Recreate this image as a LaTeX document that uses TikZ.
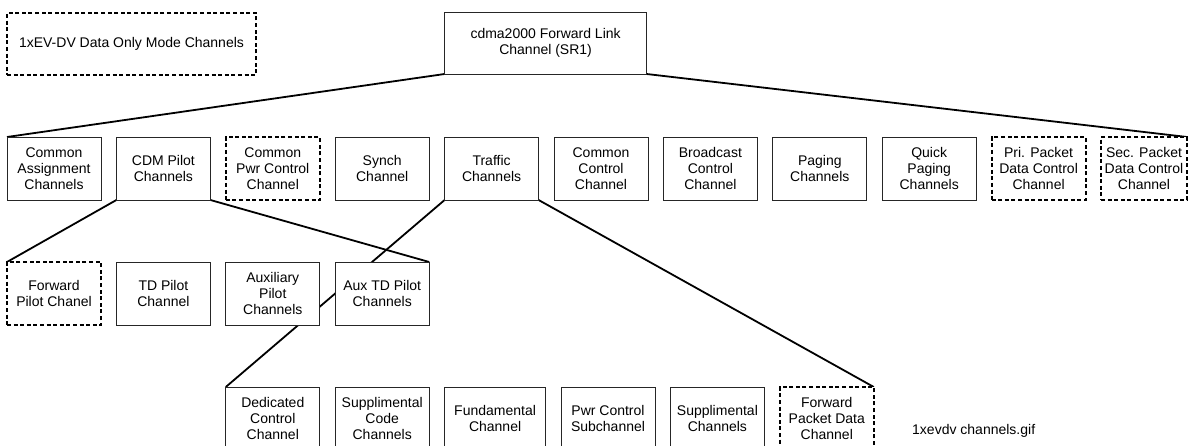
\documentclass[tikz,border=0pt]{standalone}
\usepackage{fontspec}
\setmainfont{Liberation Sans}
\usepackage{tikz}
\usetikzlibrary{positioning,backgrounds}

\begin{document}
\begin{tikzpicture}[
  x=1pt, y=1pt,
  box/.style={draw=black!85, line width=0.8pt, fill=white, align=center, minimum width=94pt, minimum height=63pt, inner sep=1pt, outer sep=0pt, font=\fontsize{14}{16}\selectfont},
  dbox/.style={box, draw=black, line width=1.8pt, dash pattern=on 4pt off 2.6pt},
  link/.style={line width=1.8pt}
]
\useasboundingbox (0,0) rectangle (1188,445);
% first row
\node[box, anchor=north west] (ca) at (7,308) {Common\\Assignment\\Channels};
\node[box, right=15.4pt of ca] (cdm) {CDM Pilot\\Channels};
\node[dbox, right=15.4pt of cdm] (cpc) {Common\\Pwr Control\\Channel};
\node[box, right=15.4pt of cpc] (sync) {Synch\\Channel};
\node[box, right=15.4pt of sync] (tch) {Traffic\\Channels};
\node[box, right=15.4pt of tch] (cch) {Common\\Control\\Channel};
\node[box, right=15.4pt of cch] (bch) {Broadcast\\Control\\Channel};
\node[box, right=15.4pt of bch] (pch) {Paging\\Channels};
\node[box, right=15.4pt of pch] (qpch) {Quick\\Paging\\Channels};
\node[dbox, right=15.4pt of qpch] (ppd) {Pri. Packet\\Data Control\\Channel};
\node[dbox, minimum width=86pt, right=15.4pt of ppd] (spd) {Sec. Packet\\Data Control\\Channel};
% top and legend
\node[box, minimum width=202pt, minimum height=62pt, anchor=south west] (fwd) at ([yshift=63pt]tch.north west) {cdma2000 Forward Link\\Channel (SR1)};
\node[dbox, minimum width=249pt, minimum height=62pt, anchor=north west] (legend) at (7,432) {1xEV-DV Data Only Mode Channels};
% second row
\node[dbox, below=62pt of ca] (fpc) {Forward\\Pilot Chanel};
\node[box, right=15.4pt of fpc] (tdp) {TD Pilot\\Channel};
\node[box, right=15.4pt of tdp] (aux) {Auxiliary\\Pilot\\Channels};
\node[box, right=15.4pt of aux] (auxtd) {Aux TD Pilot\\Channels};
% third row
\node[box, below=62pt of aux] (dcc) {Dedicated\\Control\\Channel};
\node[box, right=15.4pt of dcc] (scc) {Supplimental\\Code\\Channels};
\node[box, minimum width=101pt, right=15.4pt of scc] (fch) {Fundamental\\Channel};
\node[box, right=15.4pt of fch] (pcs) {Pwr Control\\Subchannel};
\node[box, right=15.4pt of pcs] (sch) {Supplimental\\Channels};
\node[dbox, right=15.4pt of sch] (fpdc) {Forward\\Packet Data\\Channel};
\node[anchor=west, inner sep=0pt, font=\fontsize{14}{16}\selectfont] (cap) at (912,14) {1xevdv channels.gif};
% links behind the boxes
\begin{pgfonlayer}{background}
\draw[link] (fwd.south west) -- (ca.north west);
\draw[link] (fwd.south east) -- (spd.north east);
\draw[link] (cdm.south west) -- (fpc.north west);
\draw[link] (cdm.south east) -- (auxtd.north east);
\draw[link] (tch.south west) -- (dcc.north west);
\draw[link] (tch.south east) -- (fpdc.north east);
\end{pgfonlayer}
\end{tikzpicture}
\end{document}
